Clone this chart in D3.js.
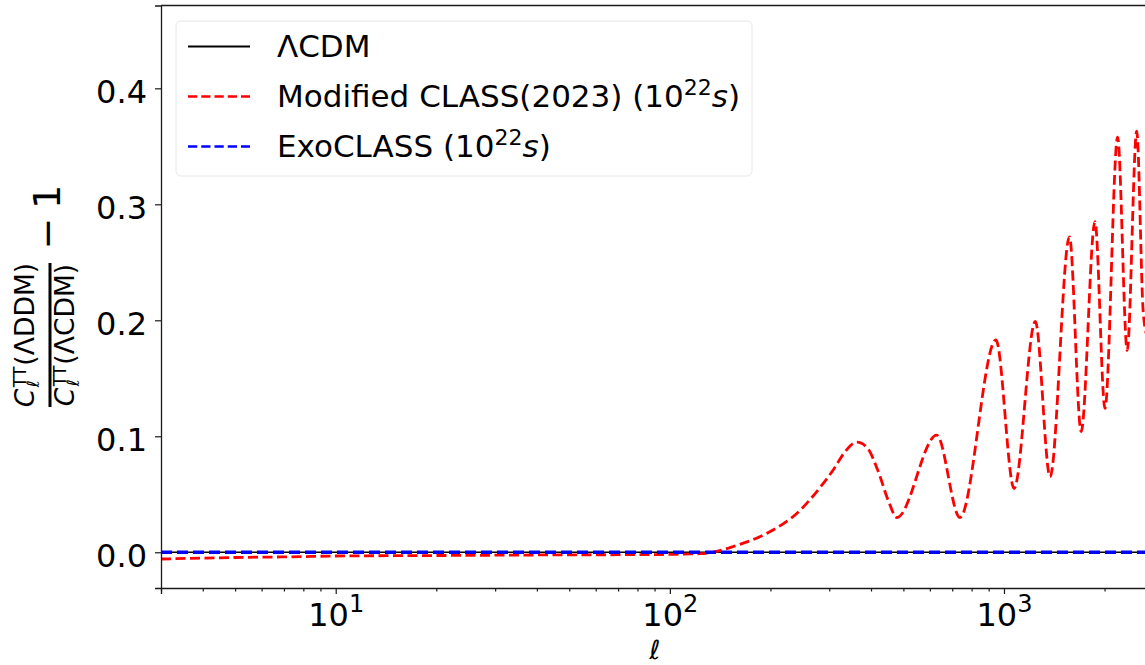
<!DOCTYPE html>
<html>
<head>
<meta charset="utf-8">
<script src="https://cdn.jsdelivr.net/npm/d3@7"></script>
<style>
  body { margin: 0; background: #fff; }
  svg { display: block; }
  text { font-family: "DejaVu Sans", sans-serif; fill: #000; }
</style>
</head>
<body>
<svg id="chart" width="1145" height="665"></svg>
<script>
// Multipole moments and fractional TT difference relative to LambdaCDM
const ellModified = [3, 5, 7.8, 10, 20, 50, 90, 123, 134, 155, 194, 245, 280, 310, 335, 363,
  390, 420, 450, 478, 629, 738, 946, 1072, 1241, 1374, 1570, 1702, 1872, 2006, 2188, 2338, 2496, 2612, 2690];
const ratioModified = [-0.0058, -0.0045, -0.0038, -0.0032, -0.0028, -0.0022, -0.0020, -0.0012, 0.0, 0.005, 0.016, 0.036, 0.055, 0.072, 0.087, 0.095,
  0.090, 0.070, 0.045, 0.030, 0.101, 0.030, 0.183, 0.055, 0.199, 0.065, 0.272, 0.104, 0.285, 0.124, 0.358, 0.174, 0.363, 0.206, 0.185];

const ellExo = [3, 3000];
const ratioExo = [0, 0];

const ellLcdm = [3, 3000];
const ratioLcdm = [0, 0];

// Axis limits and tick values
const ellRange = [3, 3000];
const ratioRange = [-0.0308, 0.4714];
const yTicks = [0.0, 0.1, 0.2, 0.3, 0.4];
const xMajorTicks = [10, 100, 1000];
const xMajorExponents = ["1", "2", "3"];

const legendItems = [
  { main: "ΛCDM", sup: null, color: "#000", dash: null, width: 2 },
  { main: "Modified CLASS(2023) (10", sup: "22", color: "#ff0000", dash: "9.25,4", width: 2.6 },
  { main: "ExoCLASS (10", sup: "22", color: "#0000ff", dash: "9.25,4", width: 2.6 }
];

const plot = { left: 161, right: 1163.4, top: 5.5, bottom: 588 };
const svg = d3.select("#chart");

const x = d3.scaleLog().domain(ellRange).range([plot.left, plot.right]);
const y = d3.scaleLinear().domain(ratioRange).range([plot.bottom, plot.top]);

svg.append("clipPath").attr("id", "plot-area")
  .append("rect")
  .attr("x", plot.left).attr("y", plot.top)
  .attr("width", plot.right - plot.left).attr("height", plot.bottom - plot.top);

const line = d3.line().x(d => x(d[0])).y(d => y(d[1])).curve(d3.curveMonotoneX);
const curves = svg.append("g").attr("clip-path", "url(#plot-area)");

curves.append("path")
  .datum(d3.zip(ellLcdm, ratioLcdm))
  .attr("d", line).attr("fill", "none").attr("stroke", "#000").attr("stroke-width", 1.6);

curves.append("path")
  .datum(d3.zip(ellModified, ratioModified))
  .attr("d", line).attr("fill", "none").attr("stroke", "#ff0000")
  .attr("stroke-width", 2.8).attr("stroke-dasharray", "10,4.5");

curves.append("path")
  .datum(d3.zip(ellExo, ratioExo))
  .attr("d", line).attr("fill", "none").attr("stroke", "#0000ff")
  .attr("stroke-width", 3.4).attr("stroke-dasharray", "11,5");

// Frame
const frame = svg.append("g").attr("stroke", "#1a1a1a").attr("stroke-width", 1.3).attr("fill", "none");
frame.append("line").attr("x1", plot.left).attr("x2", plot.right).attr("y1", plot.top).attr("y2", plot.top);
frame.append("line").attr("x1", plot.right).attr("x2", plot.right).attr("y1", plot.top).attr("y2", plot.bottom);

// Y axis
const yAxis = svg.append("g").attr("transform", `translate(${plot.left},0)`)
  .call(d3.axisLeft(y).tickValues(yTicks).tickSize(6).tickPadding(8).tickFormat(d3.format(".1f")));
yAxis.selectAll("text").attr("font-size", 32).attr("dy", "0.43em").style("font-family", '"DejaVu Sans", sans-serif');

// X axis: minor ticks from the log scale, major ticks with power-of-ten labels
const minorTicks = x.ticks().filter(t => !xMajorTicks.includes(t));
svg.append("g").attr("transform", `translate(0,${plot.bottom})`)
  .call(d3.axisBottom(x).tickValues(minorTicks).tickSize(3.5).tickFormat(""))
  .select(".domain").remove();
const xAxis = svg.append("g").attr("transform", `translate(0,${plot.bottom})`)
  .call(d3.axisBottom(x).tickValues(xMajorTicks).tickSize(6).tickFormat(""));
xAxis.selectAll(".tick").each(function(d, i) {
  const t = d3.select(this).append("text")
    .attr("y", 38).attr("text-anchor", "middle").attr("font-size", 32).attr("fill", "#000");
  t.append("tspan").text("10");
  t.append("tspan").attr("font-size", 24).attr("dy", -14).text(xMajorExponents[i]);
});
svg.selectAll(".domain").attr("stroke", "#1a1a1a").attr("stroke-width", 1.3);
svg.selectAll(".tick line").attr("stroke", "#1a1a1a").attr("stroke-width", 1.2);

// Axis labels
svg.append("text").attr("x", 655).attr("y", 658.5).attr("text-anchor", "middle")
  .attr("font-size", 26.5).attr("font-style", "italic").text("ℓ");

// y label: C_l^TT(ΛDDM) / C_l^TT(ΛCDM) − 1, drawn rotated
const yl = svg.append("g").attr("transform", "translate(50,335) rotate(-90)");
yl.append("line").attr("x1", -72).attr("x2", 72).attr("y1", 0).attr("y2", 0)
  .attr("stroke", "#000").attr("stroke-width", 3);
function ratioTerm(g, baseline, model) {
  const grp = g.append("g");
  const c = grp.append("text").attr("y", baseline).attr("font-size", 26.6).attr("font-style", "italic").text("C");
  const cw = c.node().getComputedTextLength() + 1.5;
  const sup = grp.append("text").attr("x", cw).attr("y", baseline - 8).attr("font-size", 17).text("TT");
  grp.append("text").attr("x", cw).attr("y", baseline + 5).attr("font-size", 17).attr("font-style", "italic").text("ℓ");
  const sw = sup.node().getComputedTextLength() + 1;
  const rest = grp.append("text").attr("x", cw + sw).attr("y", baseline).attr("font-size", 26.6).text("(" + model + ")");
  const total = cw + sw + rest.node().getComputedTextLength();
  grp.attr("transform", `translate(${-total / 2},0)`);
}
ratioTerm(yl, -16, "ΛDDM");
ratioTerm(yl, 24, "ΛCDM");
yl.append("text").attr("x", 101.5).attr("y", 10).attr("text-anchor", "middle").attr("font-size", 38).text("−");
yl.append("text").attr("x", 138).attr("y", 10).attr("text-anchor", "middle").attr("font-size", 38).text("1");

// Legend
const lg = svg.append("g");
lg.append("rect").attr("x", 176).attr("y", 21).attr("width", 576).attr("height", 155)
  .attr("rx", 5).attr("fill", "#fff").attr("fill-opacity", 0.8).attr("stroke", "#e6e6e6").attr("stroke-width", 1);
legendItems.forEach((item, i) => {
  const cy = 46.5 + i * 50;
  const ln = lg.append("line").attr("x1", 188).attr("x2", 250).attr("y1", cy).attr("y2", cy)
    .attr("stroke", item.color).attr("stroke-width", item.width);
  if (item.dash) ln.attr("stroke-dasharray", item.dash);
  const t = lg.append("text").attr("x", 277).attr("y", cy + 10.5).attr("font-size", 31);
  t.append("tspan").text(item.main);
  if (item.sup) {
    t.append("tspan").attr("font-size", 22).attr("dy", -12).text(item.sup);
    t.append("tspan").attr("font-style", "italic").attr("dy", 12).text("s");
    t.append("tspan").text(")");
  }
});
</script>
</body>
</html>
